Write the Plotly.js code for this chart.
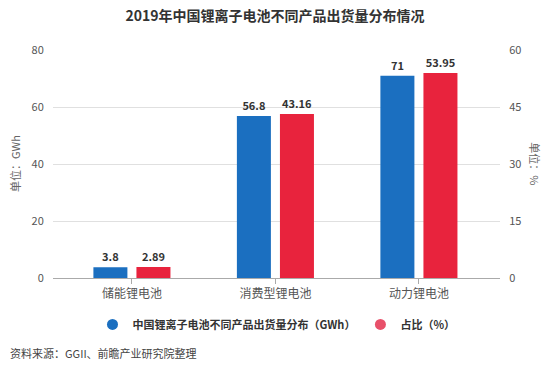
<!DOCTYPE html>
<html>
<head>
<meta charset="utf-8">
<script src="https://cdn.plot.ly/plotly-3.0.1.min.js"></script>
<style>html,body{margin:0;padding:0;background:#fff;}#chart{width:550px;height:377px;}</style>
</head>
<body>
<div id="chart"></div>
<script>
const categories = ['储能锂电池', '消费型锂电池', '动力锂电池'];
const shipments = [3.8, 56.8, 71];
const shares = [2.89, 43.16, 53.95];
const seriesNames = ['中国锂离子电池不同产品出货量分布（GWh）', '占比（%）'];
const leftTicks = [0, 20, 40, 60, 80];
const rightTicks = [0, 15, 30, 45, 60];

const blue = '#1b6fc0';
const red = '#e8233d';
const font = 'Noto Sans CJK SC, sans-serif';

const traces = [
  {type: 'bar', x: categories, y: shipments, name: seriesNames[0], marker: {color: blue},
   text: shipments.map(String), textposition: 'outside', cliponaxis: false,
   textfont: {family: font, size: 11, color: '#333', weight: 'bold'},
   offsetgroup: 'a', showlegend: false, yaxis: 'y', hoverinfo: 'none'},
  {type: 'bar', x: categories, y: shares, name: seriesNames[1], marker: {color: red},
   text: shares.map(String), textposition: 'outside', cliponaxis: false,
   textfont: {family: font, size: 11, color: '#333', weight: 'bold'},
   offsetgroup: 'b', showlegend: false, yaxis: 'y2', hoverinfo: 'none'},
  {type: 'scatter', mode: 'markers', x: [null], y: [null], name: seriesNames[0],
   marker: {color: blue, size: 11, symbol: 'circle'}, showlegend: true},
  {type: 'scatter', mode: 'markers', x: [null], y: [null], name: seriesNames[1],
   marker: {color: '#e8506a', size: 11, symbol: 'circle'}, showlegend: true}
];

const layout = {
  width: 550, height: 377,
  margin: {l: 53, r: 50, t: 50, b: 99},
  paper_bgcolor: '#fff', plot_bgcolor: '#fff',
  font: {family: font, size: 11, color: '#555'},
  title: {text: '<b>2019年中国锂离子电池不同产品出货量分布情况</b>', x: 0.5, xanchor: 'center', y: 0.957, yanchor: 'middle',
          font: {family: font, size: 14, color: '#333'}},
  barmode: 'group', bargap: 0.4, bargroupgap: 0.21,
  xaxis: {type: 'category', range: [-0.55, 2.565], showgrid: false, showline: true, linecolor: '#aaa', linewidth: 1,
          ticks: 'outside', ticklen: 5, tickcolor: '#aaa', tickfont: {size: 12, color: '#555'}, zeroline: false},
  yaxis: {range: [0, 80], tickvals: leftTicks, showgrid: true, gridcolor: '#e0e0e0', zeroline: false,
          ticks: 'outside', ticklen: 6, tickcolor: 'rgba(0,0,0,0)', tickfont: {size: 11, color: '#555'}, fixedrange: true},
  yaxis2: {range: [0, 60], tickvals: rightTicks, overlaying: 'y', side: 'right', showgrid: false, zeroline: false,
           ticks: 'outside', ticklen: 6, tickcolor: 'rgba(0,0,0,0)', tickfont: {size: 11, color: '#555'}},
  legend: {orientation: 'h', x: 0.5, xanchor: 'center', y: -0.14, yanchor: 'top',
           font: {family: font, size: 11, color: '#333', weight: 'bold'}, itemwidth: 20},
  annotations: [
    {text: '单位：GWh', xref: 'paper', yref: 'paper', x: -0.085, y: 0.5, textangle: -90, showarrow: false,
     font: {size: 11, color: '#666'}, xanchor: 'center', yanchor: 'middle'},
    {text: '单位：%', xref: 'paper', yref: 'paper', x: 1.078, y: 0.5, textangle: 90, showarrow: false,
     font: {size: 11, color: '#666'}, xanchor: 'center', yanchor: 'middle'},
    {text: '资料来源：GGII、前瞻产业研究院整理', xref: 'paper', yref: 'paper', x: -0.1, y: -0.33, xanchor: 'left', yanchor: 'middle',
     showarrow: false, font: {size: 11, color: '#444'}}
  ]
};

Plotly.newPlot('chart', traces, layout, {displayModeBar: false, staticPlot: true});
</script>
</body>
</html>
